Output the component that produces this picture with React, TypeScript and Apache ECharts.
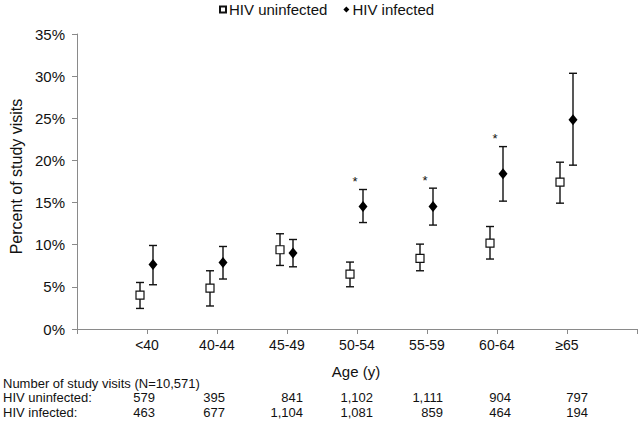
import React, { useEffect, useRef } from "react";
import * as echarts from "echarts";

const categories = ["<40", "40-44", "45-49", "50-54", "55-59", "60-64", "≥65"];
const uninfected = [4.03, 4.86, 9.4, 6.52, 8.37, 10.19, 17.42];
const uninfLow = [2.44, 2.73, 7.54, 5.01, 6.91, 8.3, 14.93];
const uninfHigh = [5.52, 6.91, 11.3, 7.94, 10.07, 12.16, 19.79];
const infected = [7.66, 7.89, 9.01, 14.53, 14.53, 18.41, 24.83];
const infLow = [5.25, 5.93, 7.38, 12.63, 12.33, 15.17, 19.44];
const infHigh = [9.91, 9.79, 10.62, 16.55, 16.71, 21.64, 30.34];
const significant = [false, false, false, true, true, true, false];
const visitsUninfected = ["579", "395", "841", "1,102", "1,111", "904", "797"];
const visitsInfected = ["463", "677", "1,104", "1,081", "859", "464", "194"];
const tableTitle = "Number of study visits (N=10,571)";
const rowLabels = ["HIV uninfected:", "HIV infected:"];

// layout (not data)
const columnRightEdges = [155, 225, 303, 373, 443, 511, 588];
const FONT = "'Liberation Sans', Arial, sans-serif";
const OFF_U = -7;
const OFF_I = 6;
const ROW_Y = [383, 397.5, 412.5];

function errorBarSeries(name: string, lows: number[], highs: number[], offset: number) {
  return {
    type: "custom",
    name,
    z: 2,
    data: lows.map((l, i) => [i + 1, l, highs[i]]),
    renderItem: (params: any, api: any) => {
      const x = api.value(0);
      const lo = api.coord([x, api.value(1)]);
      const hi = api.coord([x, api.value(2)]);
      const cx = lo[0] + offset;
      const st = { stroke: "#111", lineWidth: 1.4 };
      return {
        type: "group",
        children: [
          { type: "line", shape: { x1: cx, y1: lo[1], x2: cx, y2: hi[1] }, style: st },
          { type: "line", shape: { x1: cx - 4, y1: lo[1], x2: cx + 4, y2: lo[1] }, style: st },
          { type: "line", shape: { x1: cx - 4, y1: hi[1], x2: cx + 4, y2: hi[1] }, style: st },
        ],
      };
    },
  };
}

export default function App() {
  const ref = useRef<HTMLDivElement>(null);
  useEffect(() => {
    if (!ref.current) return;
    const chart = echarts.init(ref.current, null, { renderer: "svg" });
    const txt = (text: string, x: number, y: number, align: string) => ({
      type: "text",
      x,
      y,
      style: {
        text,
        font: `13px ${FONT}`,
        fill: "#111",
        textAlign: align,
        textVerticalAlign: "middle",
        lineHeight: 14,
      },
    });
    const tableTexts: any[] = [];
    tableTexts.push(txt(tableTitle, 3, ROW_Y[0], "left"));
    rowLabels.forEach((t, r) => tableTexts.push(txt(t, 3, ROW_Y[r + 1], "left")));
    [visitsUninfected, visitsInfected].forEach((row, r) => {
      row.forEach((v, c) => tableTexts.push(txt(v, columnRightEdges[c], ROW_Y[r + 1], "right")));
    });
    tableTexts.push({
      type: "text",
      x: 356,
      y: 371,
      style: {
        text: "Age (y)",
        font: `15px ${FONT}`,
        fill: "#111",
        textAlign: "center",
        textVerticalAlign: "middle",
        lineHeight: 16,
      },
    });

    chart.setOption({
      animation: false,
      backgroundColor: "#fff",
      textStyle: { fontFamily: FONT },
      grid: { left: 75, right: 3, top: 34, bottom: 92, containLabel: false },
      legend: {
        data: ["HIV uninfected", "HIV infected"],
        left: 214,
        top: -3,
        itemWidth: 6,
        itemHeight: 6,
        itemGap: 16,
        textStyle: { fontSize: 15, color: "#111", fontFamily: FONT, padding: [0, 0, 0, -2] },
      },
      xAxis: {
        type: "value",
        min: 0,
        max: 8,
        interval: 1,
        splitLine: { show: false },
        axisLine: { lineStyle: { color: "#8a8a8a", width: 1 } },
        axisTick: { show: true, length: 5, lineStyle: { color: "#8a8a8a" } },
        axisLabel: {
          margin: 9,
          fontSize: 14,
          color: "#111",
          fontFamily: FONT,
          showMinLabel: true,
          showMaxLabel: true,
          formatter: (v: number) => (v >= 1 && v <= categories.length ? categories[v - 1] : ""),
        },
      },
      yAxis: {
        type: "value",
        min: 0,
        max: 35,
        interval: 5,
        name: "Percent of study visits",
        nameLocation: "middle",
        nameGap: 53,
        nameTextStyle: { fontSize: 16, color: "#111", fontFamily: FONT, padding: [0, 0, 0, 10] },
        splitLine: { show: false },
        axisLine: { show: true, lineStyle: { color: "#8a8a8a", width: 1 } },
        axisTick: { show: true, length: 5, lineStyle: { color: "#8a8a8a" } },
        axisLabel: { margin: 12, fontSize: 15, color: "#111", fontFamily: FONT, formatter: "{value}%" },
      },
      series: [
        errorBarSeries("errU", uninfLow, uninfHigh, OFF_U),
        errorBarSeries("errI", infLow, infHigh, OFF_I),
        {
          type: "scatter",
          name: "HIV uninfected",
          z: 3,
          symbol: "rect",
          symbolSize: 8,
          symbolOffset: [OFF_U, 0],
          itemStyle: { color: "#fff", borderColor: "#111", borderWidth: 1.2, opacity: 1 },
          data: uninfected.map((v, i) => [i + 1, v]),
        },
        {
          type: "scatter",
          name: "HIV infected",
          z: 3,
          symbol: "diamond",
          symbolSize: [9, 11],
          symbolOffset: [OFF_I, 0],
          itemStyle: { color: "#000", opacity: 1 },
          data: infected.map((v, i) => [i + 1, v]),
        },
        {
          type: "custom",
          name: "sig",
          z: 4,
          data: significant
            .map((s, i) => (s ? [i + 1, infHigh[i]] : null))
            .filter((d) => d !== null),
          renderItem: (params: any, api: any) => {
            const p = api.coord([api.value(0), api.value(1)]);
            return {
              type: "text",
              x: p[0] - 2,
              y: p[1] - 8,
              style: {
                text: "*",
                font: `13px ${FONT}`,
                fill: "#111",
                textAlign: "center",
                textVerticalAlign: "middle",
              },
            };
          },
        },
      ],
      graphic: tableTexts,
    });
    return () => chart.dispose();
  }, []);
  return (
    <div
      ref={ref}
      style={{ position: "fixed", left: 0, top: 0, width: 640, height: 421, background: "#fff" }}
    />
  );
}
